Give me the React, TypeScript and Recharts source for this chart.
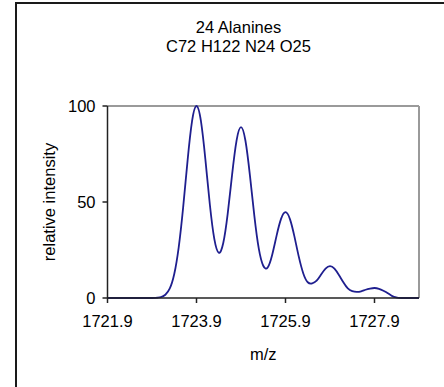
import { Line, LineChart, ReferenceLine, XAxis, YAxis } from 'recharts';

// m/z grid and relative intensity
const MZ = [
  1721.9, 1722.9, 1723.0, 1723.1, 1723.2, 1723.3, 1723.4, 1723.5, 1723.6, 1723.7, 1723.8,
  1723.9, 1724.0, 1724.1, 1724.2, 1724.3, 1724.4, 1724.5, 1724.6, 1724.7, 1724.8,
  1724.9, 1725.0, 1725.1, 1725.2, 1725.3, 1725.4, 1725.5, 1725.6, 1725.7, 1725.8,
  1725.9, 1726.0, 1726.1, 1726.2, 1726.3, 1726.4, 1726.5, 1726.6, 1726.7, 1726.8,
  1726.9, 1727.0, 1727.1, 1727.2, 1727.3, 1727.4, 1727.5, 1727.6, 1727.7, 1727.8,
  1727.9, 1728.0, 1728.1, 1728.2, 1728.3, 1728.4, 1728.5, 1728.9,
];
const INTENSITY = [
  0, 0, 0.1, 0.5, 1.7, 5.0, 12.5, 26.4, 47.2, 71.7, 92.1,
  100, 92.1, 72.1, 48.7, 30.8, 23.6, 28.5, 43.7, 64.3, 82.0,
  89.0, 81.9, 64.0, 42.8, 25.7, 16.8, 15.9, 22.4, 32.5, 41.2,
  44.7, 41.1, 32.1, 21.4, 12.8, 8.2, 7.6, 9.0, 12.2, 15.3,
  16.6, 15.3, 12.0, 8.2, 5.0, 3.6, 3.2, 3.5, 4.3, 4.9,
  5.2, 4.8, 3.8, 2.5, 1.0, 0.2, 0, 0,
];
const X_TICKS = [1721.9, 1723.9, 1725.9, 1727.9];
const Y_TICKS = [0, 50, 100];
const X_DOMAIN = [1721.9, 1728.9];

const TITLE = '24 Alanines';
const SUBTITLE = 'C72 H122 N24 O25';

const FONT = "'Liberation Sans', Arial, sans-serif";
const TEXT = { fontSize: 16.5, fill: '#000', fontFamily: FONT } as const;
const AXIS_COLOR = '#222';
const FRAME_GRAY = '#9a9a9a';
const LINE_COLOR = '#1f1f8f';

const rows = MZ.map((mz, i) => ({ mz, value: INTENSITY[i] }));

export default function App() {
  return (
    <div style={{ position: 'absolute', left: 0, top: 0, width: 444, height: 387, background: '#fff', overflow: 'hidden', fontFamily: FONT }}>
      {/* outer chart frame: only left and top edges show */}
      <div
        style={{
          position: 'absolute',
          left: 15,
          top: 2,
          width: 440,
          height: 400,
          borderLeft: '2px solid #1a1a1a',
          borderTop: '2px solid #1a1a1a',
        }}
      />
      <div
        style={{
          position: 'absolute',
          left: 138.5,
          top: 18.4,
          width: 200,
          textAlign: 'center',
          fontSize: 16.5,
          lineHeight: '18.5px',
          color: '#000',
        }}
      >
        <div>{TITLE}</div>
        <div>{SUBTITLE}</div>
      </div>
      <LineChart
        width={444}
        height={387}
        data={rows}
        margin={{ top: 106, right: 25, left: 47.5, bottom: 19 }}
        style={{ position: 'absolute', left: 0, top: 0 }}
      >
        <XAxis
          dataKey="mz"
          type="number"
          domain={X_DOMAIN}
          ticks={X_TICKS}
          tickFormatter={(v: number) => v.toFixed(1)}
          tick={TEXT}
          tickSize={5}
          tickMargin={12}
          height={70}
          stroke={AXIS_COLOR}
          strokeWidth={1.5}
          label={{ value: 'm/z', position: 'insideBottom', offset: 8, style: TEXT }}
        />
        <YAxis
          type="number"
          domain={[0, 100]}
          ticks={Y_TICKS}
          tick={TEXT}
          tickSize={5}
          tickMargin={7}
          width={60}
          stroke={AXIS_COLOR}
          strokeWidth={1.5}
          label={{
            value: 'relative intensity',
            angle: -90,
            position: 'insideLeft',
            offset: 1.5,
            style: { ...TEXT, textAnchor: 'middle' },
          }}
        />
        <ReferenceLine y={100} stroke={FRAME_GRAY} strokeWidth={2} />
        <ReferenceLine x={1728.9} stroke={FRAME_GRAY} strokeWidth={2} />
        <Line
          type="natural"
          dataKey="value"
          stroke={LINE_COLOR}
          strokeWidth={1.8}
          dot={false}
          isAnimationActive={false}
        />
      </LineChart>
    </div>
  );
}
